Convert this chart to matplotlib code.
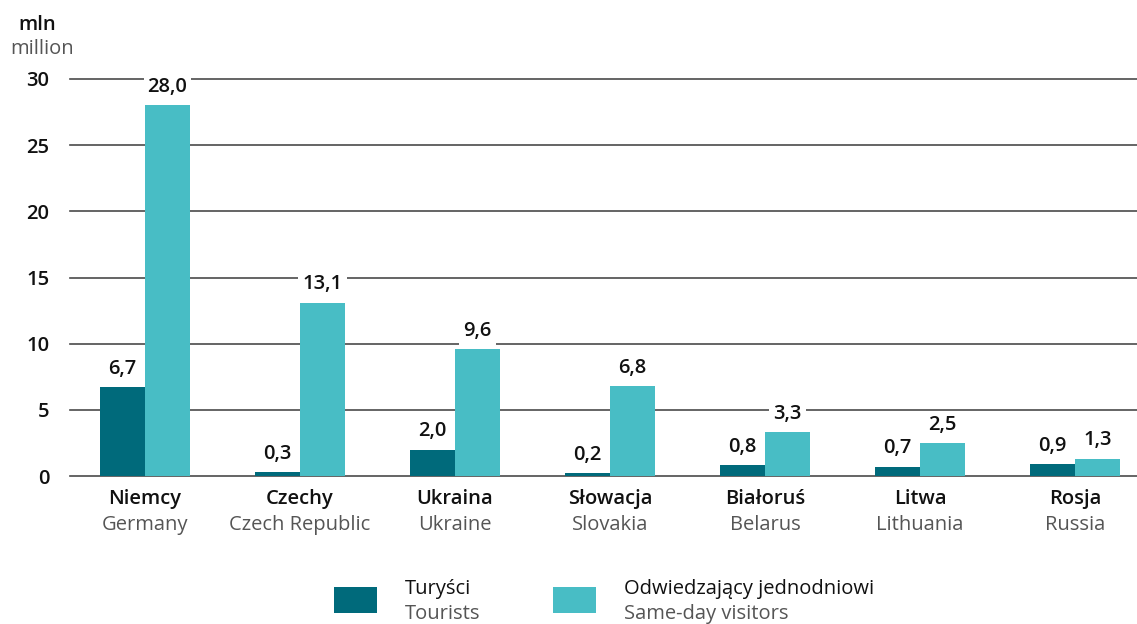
import matplotlib
matplotlib.use("Agg")
import matplotlib.pyplot as plt
from matplotlib.patches import Rectangle
import numpy as np

countries_pl = ["Niemcy", "Czechy", "Ukraina", "Słowacja", "Białoruś", "Litwa", "Rosja"]
countries_en = ["Germany", "Czech Republic", "Ukraine", "Slovakia", "Belarus", "Lithuania", "Russia"]
tourists = [6.7, 0.3, 2.0, 0.2, 0.8, 0.7, 0.9]
same_day = [28.0, 13.1, 9.6, 6.8, 3.3, 2.5, 1.3]
yticks = [0, 5, 10, 15, 20, 25, 30]

DARK = "#006a7b"
LIGHT = "#48bdc5"
GRAYTXT = "#555555"
FONT = "Open Sans"
FS = 14.5

plt.rcParams['font.family'] = [FONT, 'DejaVu Sans']

W, H = 1137, 624
fig = plt.figure(figsize=(W / 100, H / 100), dpi=100)
ax = fig.add_axes([70 / W, (H - 476) / H, 1 - 70 / W, (476 - 79) / H])

x = np.arange(len(countries_pl))
bw = 0.29
ax.set_xlim(-0.484, 6.4)
ax.set_ylim(0, 30)

for yv in yticks:
    ax.axhline(yv, color="#4a4a4a", lw=1.2, zorder=1, clip_on=False)

b1 = ax.bar(x - bw / 2, tourists, width=bw, color=DARK, zorder=2)
b2 = ax.bar(x + bw / 2, same_day, width=bw, color=LIGHT, zorder=2)

def fmt(v):
    return f"{v:.1f}".replace(".", ",")

for bars, vals in ((b1, tourists), (b2, same_day)):
    for rect, v in zip(bars, vals):
        ax.annotate(fmt(v), (rect.get_x() + rect.get_width() / 2, v),
                    xytext=(0, 6), textcoords="offset points",
                    ha="center", va="bottom", fontsize=FS, fontweight="semibold",
                    color="#111111", zorder=3,
                    bbox=dict(boxstyle="square,pad=0.2", fc="white", ec="none"))

for s in ax.spines.values():
    s.set_visible(False)
ax.set_yticks(yticks)
ax.set_yticklabels([str(t) for t in yticks], fontsize=FS, fontweight="semibold", color="#111111")
ax.tick_params(axis="y", length=0, pad=15)
ax.set_xticks([])

for xi, pl, en in zip(x, countries_pl, countries_en):
    ax.annotate(pl, (xi, 0), xytext=(0, -16.5), textcoords="offset points",
                ha="center", va="center", fontsize=FS, fontweight="semibold", color="#111111")
    ax.annotate(en, (xi, 0), xytext=(0, -35), textcoords="offset points",
                ha="center", va="center", fontsize=FS, color=GRAYTXT)

fig.text(37 / W, 1 - 25 / H, "mln", ha="center", va="center", fontsize=FS, fontweight="semibold", color="#111111")
fig.text(42 / W, 1 - 49 / H, "million", ha="center", va="center", fontsize=FS, color=GRAYTXT)

# legend
for px, col, t1, t2 in ((334, DARK, "Turyści", "Tourists"), (553, LIGHT, "Odwiedzający jednodniowi", "Same-day visitors")):
    fig.patches.append(Rectangle((px / W, 1 - 613 / H), 43 / W, 26 / H, transform=fig.transFigure,
                                 fc=col, ec="none"))
    fig.text((px + 71) / W, 1 - 589 / H, t1, ha="left", va="center", fontsize=FS, color="#111111")
    fig.text((px + 71) / W, 1 - 614 / H, t2, ha="left", va="center", fontsize=FS, color=GRAYTXT)

fig.savefig("out.png", dpi=100, facecolor="white")
